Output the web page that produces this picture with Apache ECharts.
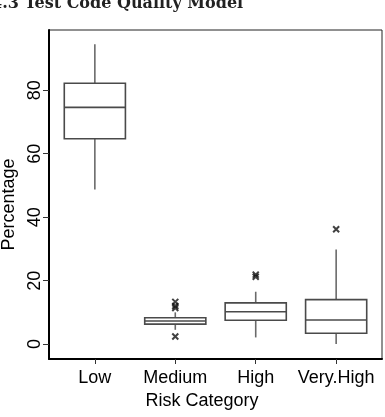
<!DOCTYPE html>
<html>
<head>
<meta charset="utf-8">
<script src="https://cdn.jsdelivr.net/npm/echarts@6/dist/echarts.min.js"></script>
<style>html,body{margin:0;padding:0;background:#fff;}#c{width:385px;height:417px;}</style>
</head>
<body>
<div id="c"></div>
<script>
const categories = ['Low', 'Medium', 'High', 'Very.High'];
const categoryPos = [1, 2, 3, 4];
// [min, Q1, median, Q3, max]
const lowBox = [48.7, 64.7, 74.6, 82.2, 94.5];
const mediumBox = [4.5, 6.3, 7.3, 8.3, 10.0];
const highBox = [2.1, 7.5, 10.2, 13.0, 16.5];
const veryHighBox = [0.0, 3.4, 7.6, 14.0, 29.8];
const mediumOutliers = [13.3, 12.0, 11.4, 2.4];
const highOutliers = [21.2, 21.9];
const veryHighOutliers = [36.2];
const yTicks = [0, 20, 40, 60, 80];

const boxes = [lowBox, mediumBox, highBox, veryHighBox];
const boxData = boxes.map((b, i) => [categoryPos[i]].concat(b));
const outlierData = []
  .concat(mediumOutliers.map(v => [categoryPos[1], v]))
  .concat(highOutliers.map(v => [categoryPos[2], v]))
  .concat(veryHighOutliers.map(v => [categoryPos[3], v]));

const BOX_FRACTION = 0.76;
const boxStroke = {stroke: '#4a4a4a', lineWidth: 1.6, fill: 'none'};
const whiskerStroke = {stroke: '#6a6a6a', lineWidth: 1.6};

function renderBox(params, api) {
  const x = api.value(0);
  const vmin = api.value(1), q1 = api.value(2), med = api.value(3), q3 = api.value(4), vmax = api.value(5);
  const half = api.size([1, 0])[0] * BOX_FRACTION / 2;
  const pMin = api.coord([x, vmin]);
  const pQ1 = api.coord([x, q1]);
  const pMed = api.coord([x, med]);
  const pQ3 = api.coord([x, q3]);
  const pMax = api.coord([x, vmax]);
  const cx = pMed[0];
  return {
    type: 'group',
    children: [
      {type: 'line', shape: {x1: cx, y1: pMax[1], x2: cx, y2: pQ3[1]}, style: whiskerStroke},
      {type: 'line', shape: {x1: cx, y1: pQ1[1], x2: cx, y2: pMin[1]}, style: whiskerStroke},
      {type: 'rect', shape: {x: cx - half, y: pQ3[1], width: half * 2, height: pQ1[1] - pQ3[1]},
        style: {stroke: '#4a4a4a', lineWidth: 1.6, fill: '#fff'}},
      {type: 'line', shape: {x1: cx - half, y1: pMed[1], x2: cx + half, y2: pMed[1]}, style: boxStroke}
    ]
  };
}

const chart = echarts.init(document.getElementById('c'), null, {renderer: 'canvas'});
const font = 'Liberation Sans, Arial, sans-serif';
chart.setOption({
  animation: false,
  backgroundColor: '#fff',
  graphic: [{
    type: 'text',
    left: -9,
    top: -4,
    style: {
      text: '4.3 Test Code Quality Model',
      font: 'bold 16px "DejaVu Serif", serif',
      fill: '#222'
    }
  }],
  grid: {
    left: 49, top: 30, right: 3, bottom: 58,
    outerBoundsMode: 'none',
    containLabel: false,
    show: true, borderColor: '#222', borderWidth: 1, backgroundColor: 'transparent'
  },
  xAxis: {
    type: 'value',
    min: 0.43, max: 4.57,
    name: 'Risk Category',
    nameLocation: 'middle',
    nameGap: 26,
    nameTextStyle: {fontFamily: font, fontSize: 18, color: '#000', padding: [0, 27, 0, 0]},
    axisLine: {show: true, onZero: false, lineStyle: {color: '#000', width: 2}},
    axisTick: {show: true, customValues: categoryPos, length: 5, lineStyle: {color: '#333', width: 1}},
    axisLabel: {
      customValues: categoryPos,
      margin: 10,
      fontFamily: font, fontSize: 18, color: '#000',
      formatter: v => categories[Math.round(v) - 1] || ''
    },
    splitLine: {show: false}
  },
  yAxis: {
    type: 'value',
    min: -4.7, max: 99,
    name: 'Percentage',
    nameLocation: 'middle',
    nameRotate: 90,
    nameGap: 20,
    nameTextStyle: {fontFamily: font, fontSize: 18, color: '#000', padding: [0, 20, 0, 0]},
    axisLine: {show: true, onZero: false, lineStyle: {color: '#000', width: 2}},
    axisTick: {show: true, customValues: yTicks, length: 6, lineStyle: {color: '#333', width: 1}},
    axisLabel: {
      customValues: yTicks,
      rotate: 90,
      margin: 5,
      fontFamily: font, fontSize: 18, color: '#000'
    },
    splitLine: {show: false}
  },
  series: [{
    type: 'custom',
    data: boxData,
    encode: {x: 0, y: [1, 2, 3, 4, 5]},
    renderItem: renderBox,
    silent: true
  }, {
    type: 'scatter',
    data: outlierData,
    symbol: 'path://M0,0L10,10M10,0L0,10',
    symbolSize: 6,
    itemStyle: {color: 'none', borderColor: '#111', borderWidth: 2},
    emphasis: {disabled: true}
  }]
});
</script>
</body>
</html>
